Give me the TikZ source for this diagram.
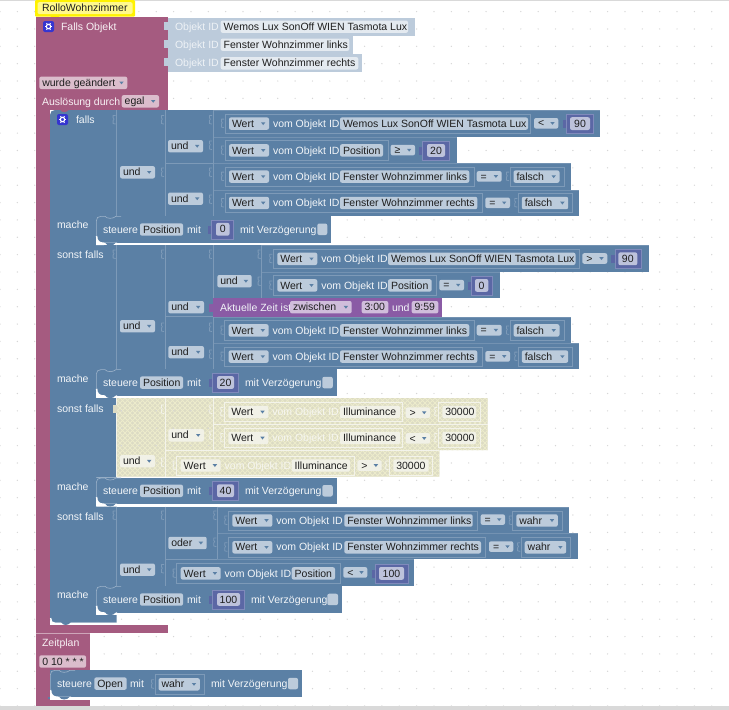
\documentclass[tikz,border=0pt]{standalone}
\usepackage{fontspec}
\setmainfont{Liberation Sans}
\definecolor{pk}{HTML}{A55B80}
\definecolor{pkf}{HTML}{DBBDCC}
\definecolor{bl}{HTML}{5B80A5}
\definecolor{hl}{HTML}{7D9AB8}
\definecolor{nm}{HTML}{5B67A5}
\definecolor{nmf}{HTML}{BDC2DB}
\definecolor{nmh}{HTML}{7F8ABB}
\definecolor{pu}{HTML}{8A5BA5}
\definecolor{puf}{HTML}{D0BDDB}
\definecolor{lb}{HTML}{BCCBDB}
\definecolor{lbf}{HTML}{E4EAF0}
\definecolor{dk}{HTML}{1E1E1E}
\definecolor{dgrid}{HTML}{D6D6D6}
\definecolor{cr}{HTML}{DCDBC4}
\definecolor{crh}{HTML}{ECEBCB}
\definecolor{gb}{HTML}{3535D0}
\colorlet{fc}{lb}\colorlet{lt}{white!92!bl}\colorlet{fr}{hl}\colorlet{tc}{bl}
\newcounter{tn}
\tikzset{tx/.style={inner sep=0pt,outer sep=0pt,font=\fontsize{10.5}{12}\selectfont}}
\newcommand{\lab}[4][lt]{\stepcounter{tn}\node[tx,text=#1,anchor=base west] (t\arabic{tn}) at (#2,#3+3.6) {#4};}
\newcommand{\cab}[4][dk]{\stepcounter{tn}\node[tx,text=#1,anchor=base] (t\arabic{tn}) at (#2,#3+3.6) {#4};}
\newcommand{\fb}[5][fc]{\fill[#1,rounded corners=2pt] (#2,#4-6.2) rectangle (#3,#4+6.2); \lab[dk]{#2+3}{#4}{#5}}
\newcommand{\dd}[5][fc]{\fb[#1]{#2}{#3}{#4}{#5}\fill[tc] (#3-8,#4-1.3) -- (#3-3.6,#4-1.3) -- (#3-5.8,#4+1.5) -- cycle;}
\newcommand{\op}[4]{\fill[fc,rounded corners=2pt] (#1,#3-5.3) rectangle (#2,#3+5.3); \lab[dk]{#1+4}{#3}{#4}\fill[tc] (#2-8,#3-1.3) -- (#2-3.6,#3-1.3) -- (#2-5.8,#3+1.5) -- cycle;}
\newcommand{\ptab}[2]{\draw[fr,line width=.8pt,line join=round] (#1-1,#2) -- (#1-3.6,#2) -- (#1-3.6,#2+2.5) -- (#1-2.6,#2+3.5) -- (#1-3.6,#2+5) -- (#1-3.6,#2+8) -- (#1-1,#2+8.6);}
\newcommand{\rowb}[5][bl]{\fill[#1] (#2,#3) rectangle (#4,#5); \draw[hl!70!#1,line width=.6pt] (#2,#3+.3) -- (#4,#3+.3);}
\newcommand{\wert}[6]{\draw[fr,line width=.7pt] (#1,#2-9.6) rectangle (#6,#2+9.6); \ptab{#1}{#2-4.5}\dd{#1+4}{#1+44}{#2}{Wert}\lab{#1+48}{#2}{vom Objekt ID}\fb{#3}{#4}{#2}{#5}}
\newcommand{\framed}[5]{\draw[fr,line width=.7pt] (#1,#3-9.6) rectangle (#2,#3+9.6); \ptab{#1}{#3-4.5}\dd{#1+3.5}{#2-4.5}{#3}{#4}}
\newcommand{\frnum}[5]{\draw[fr,line width=.7pt] (#1,#3-9.6) rectangle (#2,#3+9.6); \ptab{#1}{#3-4.5}\fb{#1+4}{#2-4}{#3}{#5}}
\newcommand{\num}[6]{\fill[nm] (#1,#5-9.7) rectangle (#2,#5+9.7); \fill[nm] (#1-4,#5-3.5) rectangle (#1,#5+4.5); \draw[nmh,line width=.5pt] (#1,#5-9.5) rectangle (#2,#5+9.5); \fill[nmf,rounded corners=2pt] (#3,#5-6.4) rectangle (#4,#5+6.4); \cab{#3/2+#4/2}{#5}{#6}}
\newcommand{\stmt}[4]{%
 \fill[bl] (#1,#3) rectangle (#2,#4);
 \fill[white] (#1,#4-7) .. controls (#1,#4-2) and (#1+3,#4) .. (#1+8,#4) -- (#1+8,#4+2) -- (#1,#4+2) -- cycle;
 \fill[bl] (#1,#4-7) -- (#1-2,#4-7) -- (#1-2,#4+2) -- (#1,#4+2) -- cycle;
 \draw[white,line width=1.5pt] (#1+.6,#4-7) .. controls (#1+.6,#4-2) and (#1+3,#4+.3) .. (#1+8,#4+.3) -- (#1+21,#4+.3);
 \fill[bl] (#1+9,#4-.5) .. controls (#1+11,#4+3.5) and (#1+17,#4+3.5) .. (#1+20,#4-.5) -- cycle;
 \draw[hl!75!white,line width=.6pt] (#1+.3,#4-7) -- (#1+.3,#3+5) .. controls (#1+.3,#3+2) and (#1+2,#3+.3) .. (#1+5,#3+.3) -- (#1+9,#3+.3) .. controls (#1+11,#3+3) and (#1+17,#3+3) .. (#1+20,#3+.3) -- (#1+25,#3+.3);}
\newcommand{\griddots}{\foreach \i in {0,...,41}{\foreach \j in {0,...,40}{\fill[dgrid] ({17.36*\i},{11.6+17.36*\j}) circle (.7pt);}}}
\newcommand{\gear}[2]{\fill[gb,rounded corners=2pt] (#1,#2) rectangle (#1+11,#2+11);
 \draw[white,line width=1.1pt] (#1+5.5,#2+5.5) circle (2.2pt);
 \foreach \a in {0,60,...,300}{\draw[white,line width=1pt] ($(#1+5.5,#2+5.5)+(\a:2.4pt)$) -- ($(#1+5.5,#2+5.5)+(\a:3.9pt)$);}}
\usetikzlibrary{calc}
\begin{document}
\begin{tikzpicture}[x=1pt,y=-1pt]
\useasboundingbox (0,0) rectangle (729,710);
\fill[white] (0,0) rectangle (729,710);
\griddots
\fill[black!15] (0,0) rectangle (729,.8);
\fill[black!15] (0,706) rectangle (729,710);
% comment
\fill[yellow,rounded corners=1pt] (35,0) rectangle (135,16.5);
\fill[yellow] (50,16) -- (55,19.3) -- (60,16) -- cycle;
\fill[yellow!45!white,rounded corners=1.5pt] (37.5,2) rectangle (132.5,14);
\lab[dk]{42}{8}{RolloWohnzimmer}
% pink trigger
\fill[pk] (35.5,16.5) rectangle (168.3,110);
\fill[pk] (35.5,110) rectangle (50,625);
\fill[pk] (35.5,625) rectangle (168.3,633);
\fill[pk] (35.5,633.5) rectangle (90,670);
\fill[pk] (35.5,670) rectangle (50,700);
\fill[pk] (35.5,700) rectangle (90,706);
\draw[pk!55!white,line width=.5pt] (35.5,633.6) -- (90,633.6);
\gear{43}{21}
\lab[white!92!pk]{61}{26.7}{Falls Objekt}
\dd[pkf]{39.3}{127.3}{82.8}{wurde geändert}
\lab[white!92!pk]{42}{101.5}{Auslösung durch}
\dd[pkf]{121.7}{159}{101.3}{egal}
% object ids
\fill[lb] (168,18.3) rectangle (415,36);
\fill[lb] (168,36) rectangle (353,54);
\fill[lb] (168,54) rectangle (362.3,72.3);
\foreach \yy in {22,40,58}{\fill[lb] (164,\yy) rectangle (168,\yy+8);}
\lab[white!75!lb]{175}{26.7}{Objekt ID}
\lab[white!75!lb]{175}{44.7}{Objekt ID}
\lab[white!75!lb]{175}{63.3}{Objekt ID}
\fb[lbf]{220.7}{408}{26.7}{Wemos Lux SonOff WIEN Tasmota Lux}
\fb[lbf]{220.7}{349.3}{44.7}{Fenster Wohnzimmer links}
\fb[lbf]{220.7}{358.3}{63.3}{Fenster Wohnzimmer rechts}
% falls column
\fill[bl] (50,115) .. controls (50,112) and (52,110) .. (55,110) -- (116.7,110) -- (116.7,216) -- (96,216) -- (96,245) -- (116.7,245) -- (116.7,369.3) -- (96,369.3) -- (96,398) -- (116.7,398) -- (116.7,477.7) -- (96,477.7) -- (96,506.7) -- (116.7,506.7) -- (116.7,586) -- (96,586) -- (96,615) -- (116.7,615) -- (116.7,622.7) -- (55,622.7) .. controls (52,622.7) and (50,621) .. (50,618) -- cycle;
\fill[pk] (60,109.7) .. controls (62,113) and (66,113) .. (69,109.7) -- cycle;
\draw[white,line width=1.3pt] (50.6,618) .. controls (50.6,621) and (52,623.4) .. (55,623.4) -- (116.7,623.4);
\fill[bl] (61,622) .. controls (63,626) and (68,626) .. (71,622) -- cycle;
\gear{57}{114}
\lab{76}{119.5}{falls}
\lab{57}{225}{mache}
\lab{57}{254.7}{sonst falls}
\lab{57}{379}{mache}
\lab{57}{408.7}{sonst falls}
\lab{57}{487}{mache}
\lab{57}{516.7}{sonst falls}
\lab{57}{595}{mache}
% ===== first condition
\fill[bl] (116.7,110) rectangle (213,216);
\rowb{213}{110}{600}{136.7}
\rowb{213}{136.7}{457}{163.3}
\rowb{213}{163.3}{571}{189.7}
\rowb{213}{189.7}{579}{216}
\draw[fr,line width=.7pt] (116.7,110) -- (116.7,216) (165,110) -- (165,216) (213,110) -- (213,216) (165,163.3) -- (213,163.3);
\foreach \p in {116.7,165,213}{\ptab{\p}{115.5}}
\ptab{213}{141}\ptab{165}{168}\ptab{213}{168}\ptab{213}{195}
\dd{168}{203}{146.2}{und}
\dd{168}{203}{198.7}{und}
\dd{120}{155}{172.3}{und}
\wert{225}{123.6}{340}{528}{Wemos Lux SonOff WIEN Tasmota Lux}{530.7}
\op{534}{558.3}{123.3}{<}
\num{566.7}{593.3}{570}{590}{123.6}{90}
\wert{225}{150.4}{340}{383}{Position}{388}
\op{390.7}{415}{150.1}{≥}
\num{422.7}{449.3}{427}{445}{150.4}{20}
\wert{225}{176.6}{340}{469.3}{Fenster Wohnzimmer links}{474}
\op{476.7}{501.7}{176.4}{=}
\framed{510}{564}{176.6}{falsch}{}
\wert{225}{203}{340}{477.3}{Fenster Wohnzimmer rechts}{482}
\op{485.3}{510}{202.8}{=}
\framed{518.3}{572.7}{203}{falsch}{}
\stmt{96}{331}{216}{243}
\lab{103}{229.5}{steuere}
\fb{140}{183}{229.5}{Position}
\lab{187}{229.5}{mit}
\num{211.7}{233.3}{216}{229.5}{229.3}{0}
\lab{240}{229.5}{mit Verzögerung}
\fill[fc,rounded corners=2pt] (317.3,223.5) rectangle (327.3,235);
% ===== second condition
\fill[bl] (116.7,245) rectangle (261.7,298);
\fill[bl] (116.7,298) rectangle (213,369.3);
\rowb{261.7}{245}{648.7}{271.7}
\rowb{261.7}{271.7}{500}{298}
\rowb{213}{316.7}{571}{343}
\rowb{213}{343}{579}{369.3}
\fill[pu] (213,298) rectangle (442,316.7);
\draw[fr,line width=.7pt] (116.7,245) -- (116.7,369.3) (165,245) -- (165,369.3) (213,245) -- (213,298) (213,316.7) -- (213,369.3) (261.7,245) -- (261.7,298) (165,316.7) -- (213,316.7);
\foreach \p in {116.7,165,213,261.7}{\ptab{\p}{250}}
\ptab{261.7}{277}\ptab{165}{323}\ptab{213}{323}\ptab{213}{350}
\fill[pu] (209,303.5) rectangle (213,311.5);
\dd{217.3}{251.7}{281.2}{und}
\dd{168.3}{204}{307.2}{und}
\dd{168.3}{204}{352.2}{und}
\dd{120}{155}{326.2}{und}
\wert{273.3}{258.8}{388}{575.5}{Wemos Lux SonOff WIEN Tasmota Lux}{579.3}
\op{582.3}{607.3}{258.5}{>}
\num{615}{641.7}{618.3}{637.3}{258.8}{90}
\wert{273.3}{285.4}{388}{431.7}{Position}{436.7}
\op{439.3}{464}{285.1}{=}
\num{471.7}{492.7}{475}{488.3}{285.4}{0}
\lab{220}{307.4}{Aktuelle Zeit ist}
\dd[puf]{290}{351.7}{307.2}{zwischen}
\fill[puf,rounded corners=2pt] (361.7,301) rectangle (388.3,313.4); \lab[dk]{364.5}{307.2}{3:00}
\lab{392}{307.4}{und}
\fill[puf,rounded corners=2pt] (411.7,301) rectangle (438.3,313.4); \lab[dk]{414.5}{307.2}{9:59}
\wert{224.6}{330.4}{340}{469.3}{Fenster Wohnzimmer links}{474}
\op{476.7}{501.7}{330.2}{=}
\framed{510}{564}{330.4}{falsch}{}
\wert{224.6}{356.6}{340}{477.3}{Fenster Wohnzimmer rechts}{482}
\op{485.3}{510}{356.4}{=}
\framed{518.3}{572.7}{356.6}{falsch}{}
\stmt{96}{336.7}{369.3}{395.7}
\lab{103}{382.6}{steuere}
\fb{140}{183}{382.6}{Position}
\lab{187}{382.6}{mit}
\num{212.7}{238.3}{217}{234}{382.5}{20}
\lab{245}{382.6}{mit Verzögerung}
\fill[fc,rounded corners=2pt] (322.3,376.8) rectangle (332.8,388.3);
% ===== disabled group
\begin{scope}
\clip (116.7,398) -- (487.7,398) -- (487.7,450) -- (439.3,450) -- (439.3,476.7) -- (116.7,476.7) -- cycle;
\fill[cr] (100,390) rectangle (500,480);
\foreach \k in {20,25,...,490}{\draw[crh,line width=.8pt] (\k,398) -- (\k+80,478) (\k+80,398) -- (\k,478);}
\foreach \i in {7,...,12}{\foreach \j in {22,...,26}{\fill[dgrid] ({17.36*\i},{11.6+17.36*\j}) circle (.7pt);}}
\end{scope}
\colorlet{fc}{white!60!cr}\colorlet{lt}{white!75!cr}\colorlet{fr}{white!65!cr}
\draw[fr,line width=.7pt] (116.7,398) -- (116.7,476.7) (165,398) -- (165,476.7) (213.3,398) -- (213.3,450) (213.3,424.3) -- (487.7,424.3) (165,450) -- (439.3,450);
\fill[cr] (112.7,405) rectangle (116.7,413);
\ptab{165}{405}\ptab{213.3}{405}\ptab{213.3}{431}\ptab{165}{458}
\dd{168.3}{204}{435.3}{und}
\dd{120}{155}{461.2}{und}
\wert{224.3}{412}{340}{400}{Illuminance}{402}
\op{405.7}{430}{412.7}{>}
\frnum{438.3}{480}{412}{}{30000}
\wert{224.3}{438}{340}{400}{Illuminance}{402}
\op{405.7}{430}{438.4}{<}
\frnum{438.3}{480}{438}{}{30000}
\wert{176.7}{465.5}{291.7}{350}{Illuminance}{354}
\op{357.3}{381.7}{465.5}{>}
\frnum{389.3}{432.7}{465.5}{}{30000}
\colorlet{fc}{lb}\colorlet{lt}{white!92!bl}\colorlet{fr}{hl}
\stmt{96}{336.7}{477.7}{504}
\lab{103}{490.8}{steuere}
\fb{140}{183}{490.8}{Position}
\lab{187}{490.8}{mit}
\num{212.7}{238.3}{217}{234}{490.7}{40}
\lab{245}{490.8}{mit Verzögerung}
\fill[fc,rounded corners=2pt] (322.3,485) rectangle (332.8,496.5);
% ===== fourth condition
\fill[bl] (116.7,506.7) rectangle (217.3,559);
\fill[bl] (116.7,559) rectangle (165,586);
\rowb{217.3}{506.7}{569.3}{533.3}
\rowb{217.3}{533.3}{577.7}{559}
\rowb{165}{559}{414.3}{586}
\draw[fr,line width=.7pt] (116.7,506.7) -- (116.7,586) (165,506.7) -- (165,586) (217.3,506.7) -- (217.3,559) (165,559) -- (217.3,559);
\foreach \p in {116.7,165,217.3}{\ptab{\p}{511}}
\ptab{217.3}{538}\ptab{165}{564.5}
\dd{168.3}{206.7}{543}{oder}
\dd{120}{155}{569.7}{und}
\wert{228.3}{520.5}{344.3}{472.7}{Fenster Wohnzimmer links}{477.3}
\op{480.7}{505}{519.6}{=}
\framed{512.8}{562.3}{520.5}{wahr}{}
\wert{228.3}{547.3}{344.3}{481}{Fenster Wohnzimmer rechts}{485.7}
\op{489}{513.3}{546.6}{=}
\framed{521.2}{570.7}{547.3}{wahr}{}
\wert{176.7}{573.4}{291.7}{335}{Position}{340}
\op{343.3}{367.3}{572.4}{<}
\num{375.7}{408.3}{379}{404}{573.4}{100}
\stmt{96}{342.3}{586}{612.7}
\lab{103}{599.5}{steuere}
\fb{140}{183}{599.5}{Position}
\lab{187}{599.5}{mit}
\num{212.7}{244.3}{217}{240}{599.4}{100}
\lab{251}{599.5}{mit Verzögerung}
\fill[fc,rounded corners=2pt] (327.3,593.7) rectangle (338,605.2);
% ===== Zeitplan
\lab[white!92!pk]{42}{643}{Zeitplan}
\fb[pkf]{39.3}{86}{661.5}{0 10 * * *}
\stmt{50}{302}{670}{697}
\fill[pk] (35.5,670) rectangle (50,697);
\lab{57}{683.6}{steuere}
\fb{94.3}{126.7}{683.6}{Open}
\lab{130}{683.6}{mit}
\framed{155}{204.3}{684.3}{wahr}{}
\lab{211}{683.6}{mit Verzögerung}
\fill[fc,rounded corners=2pt] (288,677.8) rectangle (298,689.3);
\end{tikzpicture}
\end{document}
